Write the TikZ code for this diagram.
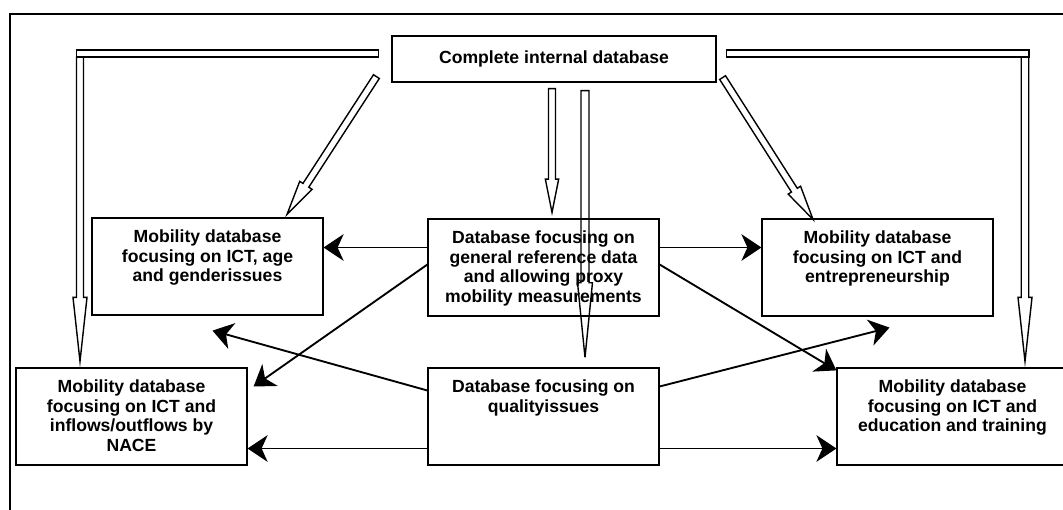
\documentclass[tikz,border=0pt]{standalone}
\usepackage{fontspec}
\setmainfont{Liberation Sans}
\usetikzlibrary{arrows.meta,calc}
\tikzset{
  dbbox/.style={draw=black,fill=white,line width=0.9pt,minimum width=173.25pt,minimum height=72.75pt,inner sep=0pt},
  dbfont/.style={font=\bfseries\fontsize{13.2}{14.8}\selectfont},
  dbtext/.style={dbfont,align=center,inner sep=0pt,anchor=north},
  hollow/.style={draw=black,line width=1.05pt,line join=miter},
  arr/.style={-{Stealth[length=15pt,width=20pt,inset=4.5pt]},line width=1.4pt},
  frame/.style={line width=1.5pt}
}
% hollow block arrow: start, tip, head length, head half width, shaft half width
\newcommand\hollowarr[5]{%
  \coordinate (hb) at ($(#2)!#3!(#1)$);
  \draw[hollow] ($(#1)!#5!90:(#2)$) -- ($(hb)!#5!-90:(#1)$) -- ($(hb)!#4!-90:(#1)$) -- (#2)
    -- ($(hb)!#4!90:(#1)$) -- ($(hb)!#5!90:(#1)$) -- ($(#1)!#5!-90:(#2)$) -- cycle;
}

\begin{document}
\begin{tikzpicture}[x=0.75pt,y=-0.75pt]
\path[use as bounding box] (0,0) rectangle (1063,510);
\draw[frame] (10,14) rectangle (1090,530);

\node[dbbox,dbfont,minimum width=243pt,minimum height=34.5pt] (full) at (554,59) {Complete internal database};
\foreach \nm/\x/\y/\lab in {
  age/207.5/266.5/{Mobility database\\focusing on ICT, age\\and genderissues},
  ref/543.5/267.5/{Database focusing on\\general reference data\\and allowing proxy\\mobility measurements},
  entr/877.5/267.5/{Mobility database\\focusing on ICT and\\entrepreneurship},
  nace/131.5/416.5/{Mobility database\\focusing on ICT and\\inflows/outflows by\\NACE},
  qual/543.5/416.5/{Database focusing on\\qualityissues},
  edu/952.5/416.5/{Mobility database\\focusing on ICT and\\education and training}}{
  \node[dbbox] (\nm) at (\x,\y) {};
  \node[dbtext] (\nm-lab) at ($(\nm.north)+(0,12)$) {\lab};
}

% block arrows out of the complete database
\coordinate (barLa) at ($(full.west)+(-13,-9)$);
\coordinate (tipL) at ($(nace.north)+(-51.5,-6)$);
\coordinate (topL) at (tipL |- barLa);
\coordinate (midL) at ($(topL)+(0,7)$);
\draw[hollow] (barLa) rectangle ($(topL)+(-3.5,7)$);
\hollowarr{midL}{tipL}{48pt}{5.25pt}{2.6pt}

\coordinate (barRa) at ($(full.east)+(10,-9)$);
\coordinate (tipR) at ($(edu.north)+(72.5,-6)$);
\coordinate (topR) at (tipR |- barRa);
\coordinate (midR) at ($(topR)+(0,7)$);
\draw[hollow] (barRa) rectangle ($(topR)+(4,7)$);
\hollowarr{midR}{tipR}{48pt}{5.25pt}{2.8pt}

\coordinate (srcA) at ($(full.south)+(-2,6)$);
\coordinate (tipA) at ($(ref.north)+(8.5,-6)$);
\hollowarr{srcA}{tipA}{25pt}{5pt}{2.6pt}

\coordinate (srcB) at ($(full.south)+(31,8)$);
\coordinate (tipB) at ($(qual.north)+(41.5,-10)$);
\hollowarr{srcB}{tipB}{56pt}{5.6pt}{3pt}

\coordinate (srcC) at ($(full.south west)+(-15,-6)$);
\coordinate (tipC) at ($(age.north)+(79.5,-3)$);
\hollowarr{srcC}{tipC}{26pt}{5.5pt}{2.6pt}

\coordinate (srcD) at ($(full.south east)+(6,-5)$);
\coordinate (tipD) at ($(entr.north)+(-64.5,1)$);
\hollowarr{srcD}{tipD}{26pt}{5.5pt}{2.6pt}

% links between the databases
\draw[arr] ($(ref.west)+(0,-20)$) -- ($(age.east)+(0,-19)$);
\draw[arr] ($(ref.east)+(0,-20)$) -- ($(entr.west)+(0,-20)$);
\draw[arr] ($(ref.west)+(0,-3)$) -- ($(nace.east)+(6,-30)$);
\draw[arr] ($(ref.east)+(0,-3)$) -- ($(edu.north west)+(0,3)$);
\draw[arr] ($(qual.west)+(0,-26)$) -- ($(age.south)+(5,15)$);
\draw[arr] ($(qual.east)+(0,-30)$) -- ($(entr.south)+(12,11)$);
\draw[arr] ($(qual.west)+(0,32)$) -- ($(nace.east)+(0,32)$);
\draw[arr] ($(qual.east)+(0,32)$) -- ($(edu.west)+(0,32)$);
\end{tikzpicture}
\end{document}
